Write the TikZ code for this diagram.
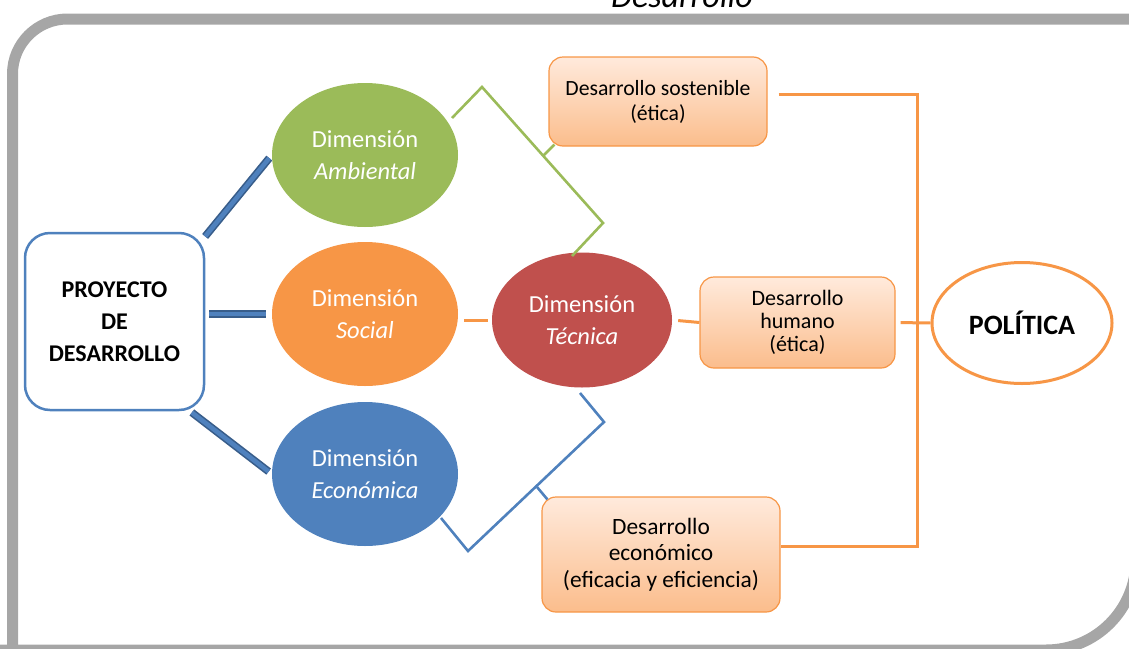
\documentclass[tikz,border=0pt]{standalone}
\usepackage{fontspec}
\setmainfont{Carlito}
\usetikzlibrary{shapes.geometric,calc}

\definecolor{cGreen}{HTML}{9BBB59}
\definecolor{cOrange}{HTML}{F79646}
\definecolor{cBlue}{HTML}{4F81BD}
\definecolor{cDarkBlue}{HTML}{385D8A}
\definecolor{cRed}{HTML}{C0504D}
\definecolor{cFrame}{HTML}{A6A6A6}
\definecolor{cPeachTop}{HTML}{FFEADC}
\definecolor{cPeachBot}{HTML}{FBBD8C}

\tikzset{
  frameline/.style={draw=cFrame, line width=11pt},
  dimension/.style={ellipse, inner sep=0pt, text=white, align=center,
    font=\fontsize{24.5}{32}\selectfont},
  devbox/.style={rectangle, rounded corners=14pt, draw=cOrange, line width=1.2pt,
    top color=cPeachTop, bottom color=cPeachBot, align=center, text=black},
  bar/.style={draw=cDarkBlue, line width=1.6pt, double=cBlue, double distance=4.5pt},
  oline/.style={draw=cOrange, line width=3pt},
  gline/.style={draw=cGreen, line width=2.6pt},
  bline/.style={draw=cBlue, line width=2.6pt},
}

\begin{document}
\begin{tikzpicture}[x=1pt, y=-1pt]
\useasboundingbox (0,0) rectangle (1129,648);
\clip (0,0) rectangle (1129,648);

% outer frame
\draw[frameline] (12.5,700) [rounded corners=55pt] -- (12.5,19) -- (1200,19);
\draw[frameline] (1136,-10) [rounded corners=90pt] -- (1136,650) -- (-10,650);

% heading, partly above the page
\node[anchor=base, font=\itshape\fontsize{34}{34}\selectfont] (title) at (682,7) {Desarrollo};

% project box
\node[rectangle, rounded corners=25pt, draw=cBlue, line width=2.5pt, fill=white,
      minimum width=179pt, minimum height=177pt, align=center,
      font=\bfseries\fontsize{24}{32}\selectfont] (proj) at (114.5,321.5)
      {PROYECTO\\DE\\DESARROLLO};

% dimensions
\node[dimension, fill=cGreen, minimum width=186pt, minimum height=144pt] (amb) at (365,155)
  {Dimensión\\\textit{Ambiental}};
\node[dimension, fill=cOrange, minimum width=186pt, minimum height=144pt] (soc) at (365,314)
  {Dimensión\\\textit{Social}};
\node[dimension, fill=cBlue, minimum width=186pt, minimum height=144pt] (eco) at (365,474)
  {Dimensión\\\textit{Económica}};
\node[dimension, fill=cRed, minimum width=180pt, minimum height=135pt] (tec) at (582,320)
  {Dimensión\\\textit{Técnica}};

% development boxes
\node[devbox, minimum width=218pt, minimum height=89pt, font=\fontsize{21.7}{25}\selectfont]
  (sost) at (658,101.5) {Desarrollo sostenible\\(ética)};
\node[devbox, minimum width=195pt, minimum height=91pt, font=\fontsize{22}{23}\selectfont]
  (hum) at (797.5,322.5) {Desarrollo\\humano\\(ética)};
\node[devbox, minimum width=238pt, minimum height=115pt, font=\fontsize{23.4}{26.5}\selectfont]
  (econ) at (661,554.5) {Desarrollo\\económico\\(eficacia y eficiencia)};

% policy
\node[ellipse, draw=cOrange, line width=3pt, fill=white, inner sep=0pt,
      minimum width=180pt, minimum height=121pt,
      font=\bfseries\fontsize{28}{28}\selectfont] (pol) at (1022,323) {POLÍTICA};

% bars from the project box
\draw[bar, shorten <=3pt, shorten >=4pt] ($(proj.north east)+(-2,7)$) -- (amb.west);
\draw[bar, shorten <=4pt, shorten >=6pt] (proj.east |- soc.west) -- (soc.west);
\draw[bar, shorten <=2pt, shorten >=4pt] ($(proj.south east)+(-15,0)$) -- (eco.west);

% green bracket
\coordinate (gA) at (452,118);
\coordinate (gB) at (482,87);
\coordinate (gC) at (603,223);
\coordinate (gD) at (572,256);
\coordinate (gT) at (543,156);
\draw[gline, line join=miter] (gA) -- (gB) -- (gC) -- (gD);
\draw[gline] (gT) -- ($(sost.south west)+(6,-2)$);

% blue bracket
\coordinate (bA) at (580,393);
\coordinate (bB) at (604,422);
\coordinate (bC) at (468,551);
\coordinate (bD) at (441,518);
\coordinate (bT) at (537,487);
\draw[bline, line join=miter] (bA) -- (bB) -- (bC) -- (bD);
\draw[bline] (bT) -- ($(econ.north west)+(6,3)$);

% orange links
\draw[oline, shorten <=6pt, shorten >=4pt] (tec.west -| soc.east) -- (tec.west);
\draw[oline, shorten <=6pt] (tec.east) -- (hum.west);
\draw[oline, shorten <=5pt] (hum.east) -- (pol.west);

% right bracket
\coordinate (rt) at (917,94);
\coordinate (rb) at (917,546);
\draw[oline, line join=miter] ($(sost.east)+(11,-7.5)$) -- (rt) -- (rb) -- ($(econ.east)+(0,-8.5)$);
\end{tikzpicture}
\end{document}
